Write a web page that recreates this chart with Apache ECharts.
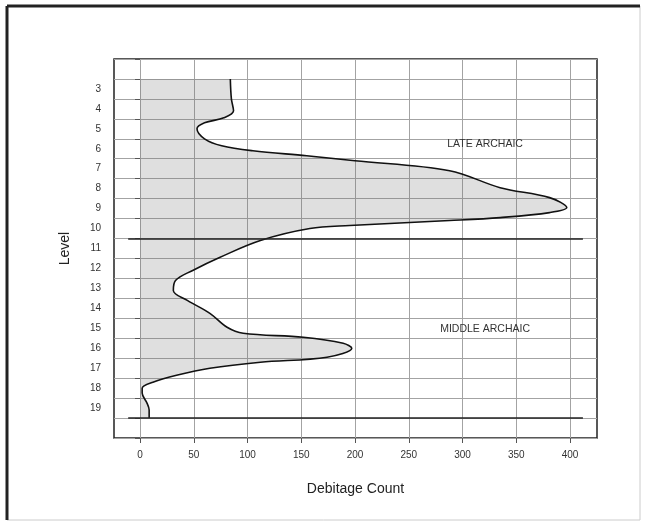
<!DOCTYPE html>
<html>
<head>
<meta charset="utf-8">
<script src="https://cdn.jsdelivr.net/npm/echarts@6/dist/echarts.min.js"></script>
<style>
    html, body { margin: 0; padding: 0; background: #fff; }
    #chart { width: 649px; height: 527px; }
</style>
</head>
<body>
<div id="chart"></div>
<script>
// level bands shown on the left axis (2 and 20 are unlabeled)
var levelNames = ['2', '3', '4', '5', '6', '7', '8', '9', '10', '11', '12', '13', '14', '15', '16', '17', '18', '19', '20'];
var countTicks = [0, 50, 100, 150, 200, 250, 300, 350, 400];

// debitage curve: level (depth) and count
var curveLevels = [2.5, 3.5, 4.1, 4.45, 4.7, 5.0, 5.5, 5.85, 6.1, 6.35, 6.6, 7.1, 7.95, 8.45, 8.95, 9.2, 9.45, 9.6, 9.85, 10.0, 10.6, 11.45, 12.1, 12.6, 13.1, 13.6, 14.25, 14.95, 15.25, 15.45, 15.75, 16.0, 16.45, 16.7, 17.0, 17.35, 17.7, 18.0, 18.25, 18.75, 19.1, 19.5];
var curveCounts = [84, 85, 87, 78, 60, 53, 60, 76, 105, 155, 200, 288, 335, 381, 397, 381, 335, 288, 195, 158, 112, 74, 49, 33, 31, 44, 65, 81, 96, 152, 189, 197, 174, 112, 65, 34, 12, 2, 2, 6.5, 8.5, 8.5];

// period dividers and labels
var dividerLevels = [10.5, 19.5];
var dividerSpan = [-11, 412];
var periodNames = ['LATE ARCHAIC', 'MIDDLE ARCHAIC'];
var periodAt = [[321, 5.75], [321, 15.05]];

var myChart = echarts.init(document.getElementById('chart'));

var curveData = curveLevels.map(function (lv, i) {
    return [curveCounts[i], lv];
});

var option = {
    animation: false,
    textStyle: { fontFamily: 'Liberation Sans', color: '#222' },
    graphic: [
        { type: 'rect', shape: { x: 7, y: 6, width: 633, height: 514 }, style: { fill: 'none', stroke: '#ccc', lineWidth: 1 } },
        { type: 'line', shape: { x1: 7, y1: 6, x2: 640, y2: 6 }, style: { stroke: '#222', lineWidth: 3 } },
        { type: 'line', shape: { x1: 7, y1: 6, x2: 7, y2: 520 }, style: { stroke: '#222', lineWidth: 3 } }
    ],
    grid: {
        left: 114,
        top: 59,
        width: 483,
        height: 379,
        show: true,
        borderColor: '#222',
        borderWidth: 1.5
    },
    xAxis: {
        type: 'value',
        min: -24.2,
        max: 425.1,
        name: 'Debitage Count',
        nameLocation: 'middle',
        nameGap: 44,
        nameTextStyle: { fontSize: 14, color: '#222' },
        axisLine: { show: false },
        axisTick: { show: true, length: 5, customValues: countTicks, lineStyle: { color: '#555' } },
        axisLabel: { customValues: countTicks, margin: 12, fontSize: 10, color: '#333' },
        splitLine: { show: true, lineStyle: { color: '#a3a3a3', width: 1 } }
    },
    yAxis: [
        {
            type: 'category',
            data: levelNames,
            inverse: true,
            boundaryGap: true,
            name: 'Level',
            nameLocation: 'middle',
            nameGap: 42,
            nameTextStyle: { fontSize: 14, color: '#222' },
            axisLine: { show: false },
            axisTick: { show: true, length: 5, lineStyle: { color: '#555' } },
            axisLabel: {
                margin: 13,
                fontSize: 10,
                color: '#333',
                formatter: function (v) { return (v === '2' || v === '20') ? '' : v; }
            },
            splitLine: { show: true, lineStyle: { color: '#a3a3a3', width: 1 } }
        },
        {
            // hidden helper axis so the area fills toward count 0
            type: 'time',
            show: false,
            inverse: true,
            min: 1.5,
            max: 20.5
        }
    ],
    series: [
        {
            type: 'line',
            yAxisIndex: 1,
            data: curveData,
            smooth: 0.35,
            symbol: 'none',
            lineStyle: { color: '#111', width: 1.6 },
            areaStyle: { color: 'rgba(110,110,110,0.32)' },
            markLine: {
                silent: true,
                symbol: 'none',
                label: { show: false },
                lineStyle: { color: '#222', width: 1.6, type: 'solid' },
                data: dividerLevels.map(function (lv) {
                    return [{ coord: [dividerSpan[0], lv] }, { coord: [dividerSpan[1], lv] }];
                })
            },
            markPoint: {
                silent: true,
                symbol: 'rect',
                symbolSize: 1,
                itemStyle: { color: 'transparent' },
                label: { show: true, position: 'inside', fontSize: 10.5, color: '#333', formatter: '{b}' },
                data: periodNames.map(function (n, i) {
                    return { name: n, coord: periodAt[i] };
                })
            }
        }
    ]
};
myChart.setOption(option);
window.addEventListener('resize', function () {
    myChart.resize();
});
</script>
</body>
</html>
